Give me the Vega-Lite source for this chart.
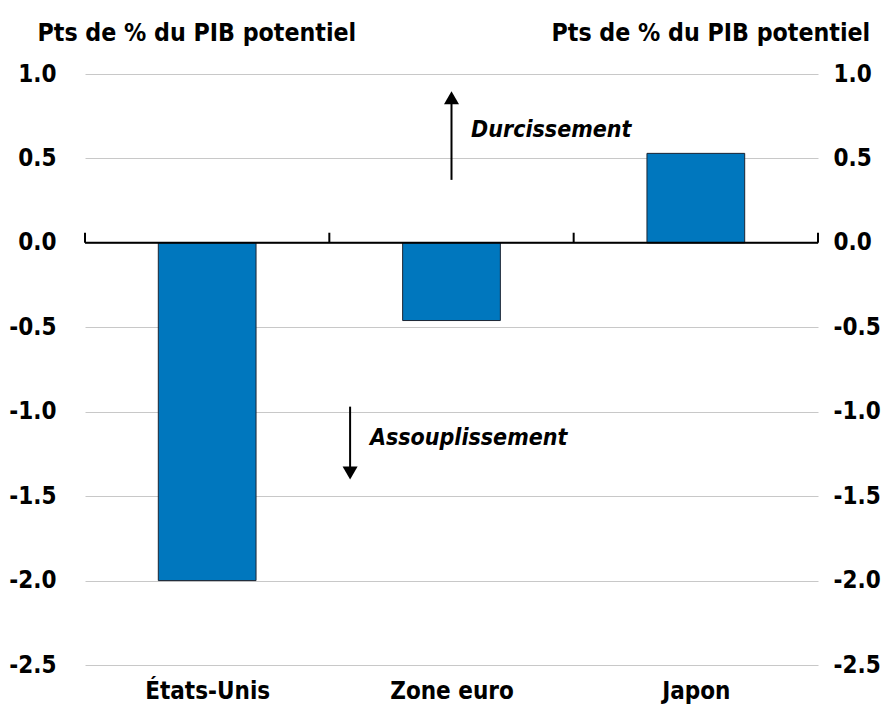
{
  "$schema": "https://vega.github.io/schema/vega-lite/v6.json",
  "width": 733,
  "height": 591,
  "autosize": "none",
  "padding": {"left": 85, "top": 74, "right": 74, "bottom": 44},
  "background": "white",
  "config": {
    "view": {"stroke": null},
    "font": "'Liberation Sans Narrow', 'DejaVu Sans Condensed', 'Roboto Condensed', 'Open Sans Condensed', Roboto, sans-serif"
  },
  "datasets": {
    "bars": [
      {"pays": "États-Unis", "x0": 0.3, "x1": 0.7, "valeur": -2.0},
      {"pays": "Zone euro", "x0": 1.3, "x1": 1.7, "valeur": -0.46},
      {"pays": "Japon", "x0": 2.3, "x1": 2.7, "valeur": 0.53}
    ],
    "ticks": [{"x": 0, "y0": 0, "y1": 0.06}, {"x": 1, "y0": 0, "y1": 0.06}, {"x": 2, "y0": 0, "y1": 0.06}, {"x": 3, "y0": 0, "y1": 0.06}],
    "arrows": [
      {"sens": "up", "x": 1.5, "from": 0.373, "to": 0.86},
      {"sens": "down", "x": 1.085, "from": -0.97, "to": -1.363}
    ],
    "labels": [
      {"texte": "Durcissement", "x": 1.58, "y": 0.627},
      {"texte": "Assouplissement", "x": 1.166, "y": -1.195}
    ]
  },
  "layer": [
    {
      "data": {"name": "bars"},
      "mark": {"type": "bar", "color": "#0077BE", "stroke": "#1c2533", "strokeWidth": 1},
      "encoding": {
        "x": {
          "field": "x0", "type": "quantitative",
          "scale": {"domain": [0, 3], "nice": false, "zero": false},
          "axis": {
            "values": [0.5, 1.5, 2.5],
            "labelExpr": "datum.value == 0.5 ? 'États-Unis' : datum.value == 1.5 ? 'Zone euro' : 'Japon'",
            "grid": false, "ticks": false, "domain": false, "title": null,
            "labelFontWeight": "bold",
            "labelFontSize": 24, "labelColor": "#000", "labelPadding": 14
          }
        },
        "x2": {"field": "x1"},
        "y": {
          "field": "valeur", "type": "quantitative",
          "scale": {"domain": [-2.5, 1.0], "nice": false},
          "axis": {
            "orient": "left",
            "values": [-2.5, -2.0, -1.5, -1.0, -0.5, 0.0, 0.5, 1.0],
            "labelExpr": "datum.value < 0 ? '-' + format(-datum.value, '.1f') : format(datum.value, '.1f')",
            "grid": true, "gridColor": "#c8c8c8", "gridWidth": 1,
            "ticks": false, "domain": false,
            "labelFontWeight": "bold",
            "labelFontSize": 24, "labelColor": "#000", "labelPadding": 29,
            "title": "Pts de % du PIB potentiel",
            "titleAngle": 0, "titleAlign": "left", "titleBaseline": "alphabetic",
            "titleX": -48, "titleY": -34,
            "titleFontWeight": "bold",
            "titleFontSize": 24.7, "titleColor": "#000"
          }
        },
        "y2": {"datum": 0}
      }
    },
    {
      "data": {"name": "bars"},
      "mark": {"type": "rule", "color": "#000", "strokeWidth": 0},
      "encoding": {
        "y": {
          "field": "valeur", "type": "quantitative",
          "axis": {
            "orient": "right",
            "values": [-2.5, -2.0, -1.5, -1.0, -0.5, 0.0, 0.5, 1.0],
            "labelExpr": "datum.value < 0 ? '-' + format(-datum.value, '.1f') : format(datum.value, '.1f')",
            "grid": false, "ticks": false, "domain": false,
            "labelFontWeight": "bold",
            "labelFontSize": 24, "labelColor": "#000", "labelPadding": 15,
            "title": "Pts de % du PIB potentiel",
            "titleAngle": 0, "titleAlign": "left", "titleBaseline": "alphabetic",
            "titleX": -267, "titleY": -34,
            "titleFontWeight": "bold",
            "titleFontSize": 24.7, "titleColor": "#000"
          }
        }
      }
    },
    {
      "data": {"values": [{"y": 0}]},
      "mark": {"type": "rule", "color": "#000", "strokeWidth": 2},
      "encoding": {"y": {"field": "y", "type": "quantitative", "axis": null}}
    },
    {
      "data": {"name": "ticks"},
      "mark": {"type": "rule", "color": "#000", "strokeWidth": 2},
      "encoding": {
        "x": {"field": "x", "type": "quantitative"},
        "y": {"field": "y0", "type": "quantitative", "axis": null},
        "y2": {"field": "y1"}
      }
    },
    {
      "data": {"name": "arrows"},
      "mark": {"type": "rule", "color": "#000", "strokeWidth": 2},
      "encoding": {
        "x": {"field": "x", "type": "quantitative"},
        "y": {"field": "from", "type": "quantitative", "axis": null},
        "y2": {"field": "to"}
      }
    },
    {
      "data": {"name": "arrows"},
      "mark": {"type": "point", "filled": true, "color": "#000", "size": 225, "opacity": 1},
      "encoding": {
        "x": {"field": "x", "type": "quantitative"},
        "y": {"field": "to", "type": "quantitative", "axis": null},
        "shape": {
          "field": "sens", "type": "nominal",
          "scale": {"domain": ["up", "down"], "range": ["triangle-up", "triangle-down"]},
          "legend": null
        }
      }
    },
    {
      "data": {"name": "labels"},
      "mark": {"type": "text", "align": "left", "baseline": "alphabetic", "fontSize": 23, "fontStyle": "italic", "fontWeight": "bold", "color": "#000"},
      "encoding": {
        "x": {"field": "x", "type": "quantitative"},
        "y": {"field": "y", "type": "quantitative", "axis": null},
        "text": {"field": "texte"}
      }
    }
  ],
  "resolve": {"scale": {"y": "shared"}, "axis": {"y": "independent"}}
}
